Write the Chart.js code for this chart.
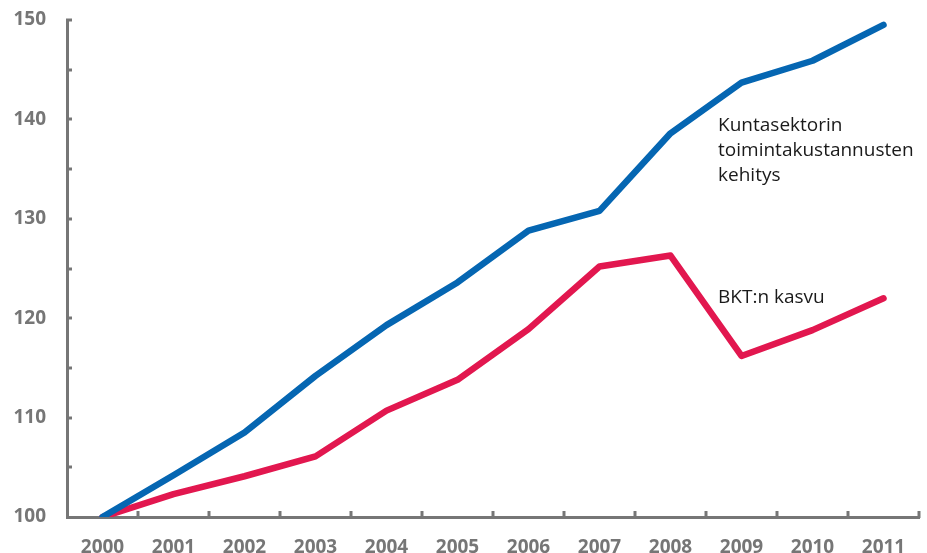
<!DOCTYPE html>
<html>
<head>
<meta charset="utf-8">
<script src="https://cdn.jsdelivr.net/npm/chart.js@4"></script>
<style>
  html, body { margin: 0; padding: 0; background: #fff; }
  #wrap { width: 927px; height: 553px; position: relative; }
</style>
</head>
<body>
<div id="wrap"><canvas id="chart" width="927" height="553"></canvas></div>
<script>
// Data
const years = ['2000', '2001', '2002', '2003', '2004', '2005', '2006', '2007', '2008', '2009', '2010', '2011'];
const kuntasektori = [100, 104.2, 108.5, 114.2, 119.3, 123.6, 128.8, 130.8, 138.6, 143.7, 145.9, 149.5];
const bkt = [100, 102.3, 104.1, 106.1, 110.7, 113.8, 118.9, 125.2, 126.3, 116.2, 118.8, 122.0];
const yTicks = [100, 110, 120, 130, 140, 150];

const AXIS = '#767676';
const BLUE = '#0566b2';
const RED = '#e2174f';

// Inward tick marks + line labels
const decorPlugin = {
    id: 'decor',
    afterDraw(chart) {
        const ctx = chart.ctx;
        const xs = chart.scales.x;
        const ys = chart.scales.y;
        const area = chart.chartArea;
        ctx.save();
        ctx.strokeStyle = AXIS;
        ctx.lineWidth = 3;
        // y ticks every 5
        for (let v = 105; v <= 150; v += 5) {
            const y = Math.round(ys.getPixelForValue(v));
            ctx.beginPath();
            ctx.moveTo(area.left - 1, y);
            ctx.lineTo(area.left + 5, y);
            ctx.stroke();
        }
        // x ticks at category boundaries
        for (let i = 1; i <= years.length; i++) {
            const x = Math.round(xs.getPixelForValue(i - 0.5));
            ctx.beginPath();
            ctx.moveTo(x, area.bottom + 1);
            ctx.lineTo(x, area.bottom - 6);
            ctx.stroke();
        }
        // labels
        ctx.fillStyle = '#1a1a1a';
        ctx.font = '19px "Open Sans"';
        ctx.textAlign = 'left';
        ctx.textBaseline = 'alphabetic';
        const lx = xs.getPixelForValue(8.67);
        const y1 = ys.getPixelForValue(138.8);
        ['Kuntasektorin', 'toimintakustannusten', 'kehitys'].forEach((t, i) => {
            ctx.fillText(t, lx, y1 + i * 25);
        });
        ctx.fillText('BKT:n kasvu', lx, ys.getPixelForValue(121.5));
        ctx.restore();
    }
};

new Chart(document.getElementById('chart'), {
    type: 'line',
    data: {
        labels: years,
        datasets: [
            {
                label: 'Kuntasektorin toimintakustannusten kehitys',
                data: kuntasektori,
                borderColor: BLUE,
                borderWidth: 6.5,
                pointRadius: 0,
                borderCapStyle: 'round',
                borderJoinStyle: 'round',
                tension: 0
            },
            {
                label: 'BKT:n kasvu',
                data: bkt,
                borderColor: RED,
                borderWidth: 6.5,
                pointRadius: 0,
                borderCapStyle: 'round',
                borderJoinStyle: 'round',
                tension: 0
            }
        ]
    },
    options: {
        responsive: false,
        animation: false,
        events: [],
        layout: { padding: { top: 20, right: 8, left: 0, bottom: 0 } },
        plugins: {
            legend: { display: false },
            tooltip: { enabled: false }
        },
        scales: {
            x: {
                offset: true,
                grid: { display: false, drawTicks: false },
                border: { display: true, color: AXIS, width: 3 },
                ticks: {
                    color: AXIS,
                    padding: 19,
                    maxRotation: 0,
                    font: { family: '"Open Sans"', size: 19, weight: 'bold' }
                },
                afterFit(scale) {
                    scale.height = 36;
                    scale.paddingLeft = 0;
                    scale.paddingRight = 0;
                }
            },
            y: {
                min: 100,
                max: 150,
                afterBuildTicks(scale) {
                    scale.ticks = yTicks.map(v => ({ value: v }));
                },
                grid: { display: false, drawTicks: false },
                border: { display: true, color: AXIS, width: 3 },
                ticks: {
                    color: AXIS,
                    padding: 21,
                    font: { family: '"Open Sans"', size: 19, weight: 'bold' }
                },
                afterFit(scale) {
                    scale.width = 67;
                    scale.paddingTop = 0;
                    scale.paddingBottom = 0;
                }
            }
        }
    },
    plugins: [decorPlugin]
});
</script>
</body>
</html>
